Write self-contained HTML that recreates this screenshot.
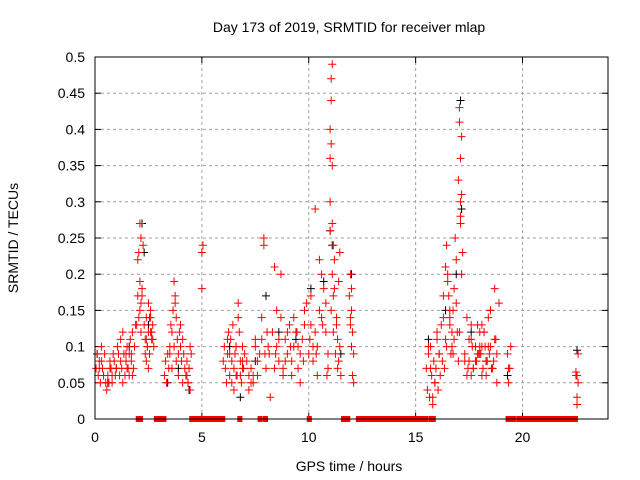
<!DOCTYPE html>
<html><head><meta charset="utf-8"><style>
body{margin:0;background:#fff}
svg{display:block;font-family:"Liberation Sans",sans-serif}
</style></head><body>
<svg id="chart" width="640" height="480" xmlns="http://www.w3.org/2000/svg">
<rect width="640" height="480" fill="#fff"/>
<text x="349" y="32" font-size="14" text-anchor="middle">Day 173 of 2019, SRMTID for receiver mlap</text>
<text x="349" y="471" font-size="14" text-anchor="middle">GPS time / hours</text>
<text x="0" y="0" font-size="14" text-anchor="middle" transform="translate(18,238) rotate(-90)">SRMTID / TECUs</text>
<g id="grid"></g><g id="ticks"></g><g id="marks"></g>
<rect x="95" y="57" width="513" height="362" fill="none" stroke="#000" stroke-width="1"/>
</svg>
<script>
const xTicks=[0,5,10,15,20];
const yTicks=[0,0.05,0.1,0.15,0.2,0.25,0.3,0.35,0.4,0.45,0.5];
const yTickLabels=["0","0.05","0.1","0.15","0.2","0.25","0.3","0.35","0.4","0.45","0.5"];
const redHours=[0.05,0.1,0.15,0.2,0.25,0.3,0.35,0.4,0.45,0.5,0.55,0.6,0.65,0.7,0.75,0.8,0.85,0.9,0.95,1.0,1.05,1.1,0.2,0.4,0.6,0.8,1.0,
1.2,1.25,1.3,1.35,1.4,1.45,1.5,1.55,1.6,1.65,1.7,1.75,1.8,1.85,1.9,1.3,1.5,1.7,1.2,1.6,
2.0,2.05,2.1,2.15,2.2,2.1,2.05,2.15,1.95,2.25,2.0,2.1,2.2,2.15,
2.3,2.35,2.4,2.45,2.5,2.55,2.6,2.65,2.7,2.75,2.4,2.5,2.6,2.35,2.55,2.7,2.45,2.65,
3.25,3.3,3.35,3.4,3.45,3.5,3.55,3.6,3.65,3.7,3.75,3.8,3.85,3.9,3.95,4.0,4.05,4.1,4.15,4.2,3.7,3.75,3.8,3.9,4.0,3.6,3.5,4.1,
4.25,4.3,4.35,4.4,4.45,4.5,4.3,4.4,4.35,4.45,
5.0,5.0,5.05,
6.0,6.05,6.1,6.15,6.2,6.25,6.3,6.35,6.4,6.45,6.5,6.55,6.6,6.65,6.7,6.75,6.8,6.85,6.9,6.95,7.0,6.7,6.8,6.2,6.5,6.9,6.3,6.6,
7.1,7.2,7.3,7.4,7.5,7.6,7.7,7.8,7.9,8.0,8.1,8.2,7.3,7.6,7.9,8.05,7.95,7.4,7.8,8.15,
8.3,8.4,8.5,8.6,8.7,8.8,8.9,9.0,9.1,9.2,9.3,9.4,9.5,9.6,9.7,9.8,9.9,8.5,8.7,9.0,9.3,9.6,8.4,8.9,9.5,9.8,9.2,8.6,
10.0,10.1,10.2,10.3,10.4,10.5,10.6,10.7,10.8,10.9,10.2,10.4,10.6,10.8,10.1,10.5,10.9,10.3,
11.0,11.0,11.05,11.1,11.05,11.0,11.1,11.05,11.1,11.15,11.2,11.0,11.1,11.15,11.2,11.05,11.15,
11.25,11.3,11.35,11.4,11.45,11.5,11.3,11.4,11.35,11.45,
11.9,11.95,12.0,12.05,12.1,11.95,12.0,12.05,12.0,11.95,12.1,
15.5,15.55,15.6,15.65,15.7,15.75,15.8,15.85,15.9,15.95,16.0,16.05,16.1,16.15,15.6,15.8,16.0,15.7,15.9,16.1,
16.2,16.3,16.4,16.5,16.6,16.7,16.8,16.9,17.0,16.3,16.5,16.7,16.9,16.4,16.6,16.8,16.35,16.55,16.75,16.95,16.45,16.65,16.85,
17.0,17.05,17.1,17.15,17.1,17.05,17.15,17.1,17.2,17.15,17.1,17.05,
17.3,17.4,17.5,17.6,17.7,17.8,17.9,18.0,18.1,18.2,18.3,18.4,18.5,18.6,18.7,18.8,18.9,17.4,17.6,17.8,18.0,18.2,18.4,18.6,18.8,17.5,17.7,17.9,18.1,18.3,18.5,18.7,17.3,18.0,18.5,17.6,
19.3,19.35,19.4,19.45,19.35,
22.5,22.55,22.6,22.55,22.5,22.6,22.55,
0.3,0.7,1.15,1.45,1.75,2.4,2.6,2.5,6.4,6.6,6.9,7.2,7.5,8.45,8.8,9.15,9.45,9.75,10.05,10.35,10.65,10.85,16.25,16.45,16.6,16.75,17.45,17.65,17.85,18.05,18.15,18.25,18.35,18.45,18.55,18.65,18.75,17.95,18.1,18.3];
const redValues=[0.07,0.09,0.06,0.08,0.05,0.1,0.07,0.06,0.09,0.05,0.04,0.06,0.05,0.08,0.07,0.06,0.09,0.08,0.06,0.07,0.1,0.09,0.07,0.06,0.05,0.05,0.07,
0.08,0.07,0.12,0.09,0.06,0.08,0.1,0.07,0.09,0.11,0.08,0.06,0.07,0.1,0.13,0.05,0.07,0.09,0.11,0.06,
0.17,0.23,0.27,0.25,0.18,0.15,0.14,0.16,0.13,0.24,0.22,0.19,0.17,0.12,
0.13,0.11,0.14,0.1,0.12,0.09,0.15,0.11,0.13,0.1,0.08,0.16,0.12,0.09,0.14,0.11,0.1,0.12,
0.06,0.08,0.05,0.09,0.07,0.1,0.13,0.12,0.15,0.19,0.17,0.14,0.11,0.09,0.12,0.1,0.08,0.11,0.09,0.07,0.1,0.16,0.08,0.06,0.13,0.07,0.09,0.05,
0.06,0.08,0.05,0.07,0.04,0.09,0.06,0.07,0.05,0.1,
0.18,0.23,0.24,
0.08,0.1,0.07,0.05,0.09,0.12,0.06,0.11,0.08,0.13,0.07,0.09,0.1,0.06,0.16,0.12,0.08,0.05,0.1,0.07,0.09,0.14,0.06,0.11,0.04,0.07,0.09,
0.06,0.08,0.04,0.07,0.05,0.1,0.06,0.09,0.11,0.25,0.07,0.1,0.03,0.05,0.08,0.24,0.12,0.09,0.06,0.14,
0.09,0.12,0.07,0.1,0.08,0.14,0.06,0.11,0.09,0.13,0.08,0.1,0.12,0.07,0.09,0.11,0.13,0.16,0.15,0.2,0.12,0.14,0.05,0.21,0.08,0.1,0.15,0.06,
0.11,0.09,0.13,0.08,0.12,0.1,0.15,0.14,0.18,0.12,0.07,0.1,0.06,0.2,0.16,0.17,0.22,0.09,
0.29,0.36,0.4,0.47,0.49,0.38,0.3,0.35,0.44,0.27,0.24,0.22,0.26,0.2,0.17,0.18,0.15,
0.12,0.09,0.14,0.11,0.08,0.1,0.06,0.13,0.19,0.07,
0.23,0.17,0.2,0.15,0.12,0.09,0.13,0.18,0.06,0.1,0.14,
0.05,0.07,0.04,0.09,0.03,0.1,0.06,0.02,0.08,0.05,0.07,0.11,0.04,0.09,0.06,0.1,0.03,0.12,0.07,0.05,
0.09,0.13,0.17,0.11,0.2,0.15,0.12,0.18,0.22,0.08,0.14,0.19,0.1,0.16,0.21,0.13,0.11,0.07,0.17,0.15,0.12,0.24,0.09,
0.25,0.33,0.41,0.36,0.31,0.28,0.43,0.39,0.27,0.23,0.2,0.3,
0.12,0.09,0.14,0.08,0.11,0.07,0.1,0.13,0.09,0.06,0.12,0.08,0.1,0.15,0.07,0.11,0.09,0.16,0.06,0.13,0.08,0.1,0.12,0.14,0.07,0.05,0.11,0.07,0.09,0.13,0.06,0.1,0.18,0.08,0.12,0.15,
0.06,0.09,0.05,0.07,0.1,
0.07,0.06,0.03,0.09,0.02,0.065,0.05,
0.06,0.08,0.07,0.06,0.09,0.12,0.11,0.14,0.07,0.05,0.1,0.08,0.06,0.11,0.09,0.07,0.1,0.12,0.08,0.11,0.09,0.13,0.06,0.08,0.1,0.14,0.09,0.07,0.1,0.08,0.09,0.07,0.1,0.08,0.09,0.07,0.08,0.11,0.09,0.1];
const blackHours=[0.1,0.6,1.0,1.6,2.2,2.3,2.5,3.4,3.9,4.4,6.3,6.8,7.5,8.0,8.6,9.4,10.1,10.7,11.0,11.1,11.5,12.0,15.6,16.4,16.9,17.1,17.15,17.6,18.3,19.3,22.55];
const blackValues=[0.09,0.05,0.07,0.1,0.27,0.23,0.13,0.05,0.07,0.04,0.1,0.03,0.08,0.17,0.12,0.11,0.18,0.19,0.26,0.24,0.09,0.2,0.11,0.15,0.2,0.44,0.29,0.12,0.08,0.06,0.095];
const zeroStart=[2.0,2.85,4.5,6.75,7.7,7.95,10.0,11.6,12.3,15.7,19.3,19.8];
const zeroEnd=[2.15,3.25,6.0,6.8,7.75,8.0,10.05,11.85,15.5,15.85,19.6,22.5];

const X0=95,X1=608,Y0=419,Y1=57;
const xs=h=>X0+h/24*(X1-X0);
const ys=v=>Y0-v/0.5*(Y0-Y1);
const NS="http://www.w3.org/2000/svg";
function mk(tag,attrs,parent){const e=document.createElementNS(NS,tag);for(const k in attrs)e.setAttribute(k,attrs[k]);parent.appendChild(e);return e;}
const grid=document.getElementById('grid'),ticks=document.getElementById('ticks'),marks=document.getElementById('marks');
xTicks.forEach(t=>{const x=xs(t);
 if(t>0){const g=mk('line',{x1:x,y1:Y0,x2:x,y2:Y1,stroke:'#a0a0a0','stroke-dasharray':'3,3'},grid);
 
 }
 mk('line',{x1:x,y1:Y0,x2:x,y2:Y0-6,stroke:'#000'},ticks);mk('line',{x1:x,y1:Y1,x2:x,y2:Y1+6,stroke:'#000'},ticks);
 const tx=mk('text',{x:x,y:Y0+23,'font-size':14,'text-anchor':'middle'},ticks);tx.textContent=t;
 
 });
yTicks.forEach((t,i)=>{const y=ys(t);
 if(t>0&&t<0.5){const g=mk('line',{x1:X0,y1:y,x2:X1,y2:y,stroke:'#a0a0a0','stroke-dasharray':'3,3'},grid);
 
 }
 mk('line',{x1:X0,y1:y,x2:X0+6,y2:y,stroke:'#000'},ticks);mk('line',{x1:X1,y1:y,x2:X1-6,y2:y,stroke:'#000'},ticks);
 const tx=mk('text',{x:X0-10,y:y+5,'font-size':14,'text-anchor':'end'},ticks);tx.textContent=yTickLabels[i];
 
 });
function plus(h,v,color,name){const x=xs(h),y=ys(v);
 const p=mk('path',{d:`M${x-4},${y}h8M${x},${y-4}v8`,stroke:color,'stroke-width':1,fill:'none'},marks);
 
 }
blackHours.forEach((h,i)=>plus(h,blackValues[i],'#000','black-point'));
redHours.forEach((h,i)=>plus(h,redValues[i],'#f00','red-point'));
zeroStart.forEach((s,i)=>{const r=mk('rect',{x:xs(s)-2,y:Y0-3,width:Math.max(xs(zeroEnd[i])-xs(s)+4,3),height:6,fill:'#f00'},marks);
 
 });
</script>
</body></html>
